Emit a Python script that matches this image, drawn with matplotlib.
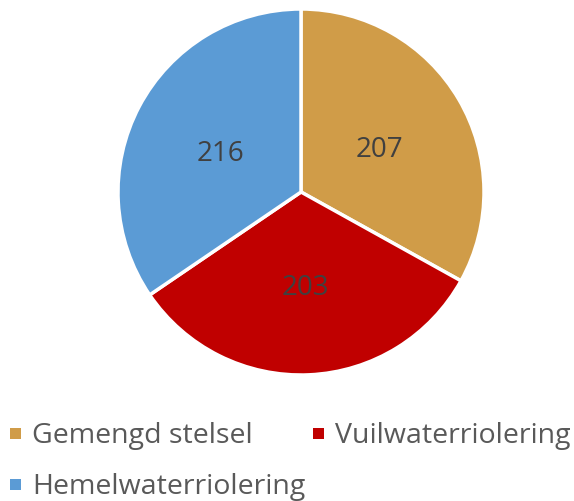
import matplotlib
matplotlib.use("Agg")
import matplotlib.pyplot as plt
from matplotlib.patches import Rectangle

categories = ["Gemengd stelsel", "Vuilwaterriolering", "Hemelwaterriolering"]
values = [207, 203, 216]
colors = ["#D09C48", "#C00000", "#5B9BD5"]

W, H = 574, 502
fig = plt.figure(figsize=(W / 100, H / 100), dpi=100)
plt.rcParams['font.family'] = ['Open Sans', 'DejaVu Sans']

cx, cy, r = 301, 193, 183
ax = fig.add_axes([(cx - r) / W, 1 - (cy + r) / H, 2 * r / W, 2 * r / H])
wedges, texts = ax.pie(values, colors=colors, startangle=90, counterclock=False,
                       labels=[str(v) for v in values], labeldistance=0.5,
                       wedgeprops=dict(edgecolor="white", linewidth=2.5),
                       textprops=dict(color="#404040", fontsize=20))
for t in texts:
    t.set_horizontalalignment("center")
    t.set_verticalalignment("center")
    x, y = t.get_position()
    t.set_position((x, y - 0.02))
ax.set_xlim(-1, 1)
ax.set_ylim(-1, 1)
ax.set_aspect("equal")
ax.axis("off")

# legend
pos = [(10, 434), (313, 434), (10, 485)]
for (x, y), lab, c in zip(pos, categories, colors):
    fig.patches.append(Rectangle((x / W, 1 - (y + 6) / H), 11 / W, 11 / H,
                                 transform=fig.transFigure, facecolor=c, edgecolor="none"))
    fig.text((x + 22) / W, 1 - (y + 2) / H, lab, color="#595959", fontsize=20.5,
             va="center", ha="left")

fig.savefig("out.png", dpi=100)
